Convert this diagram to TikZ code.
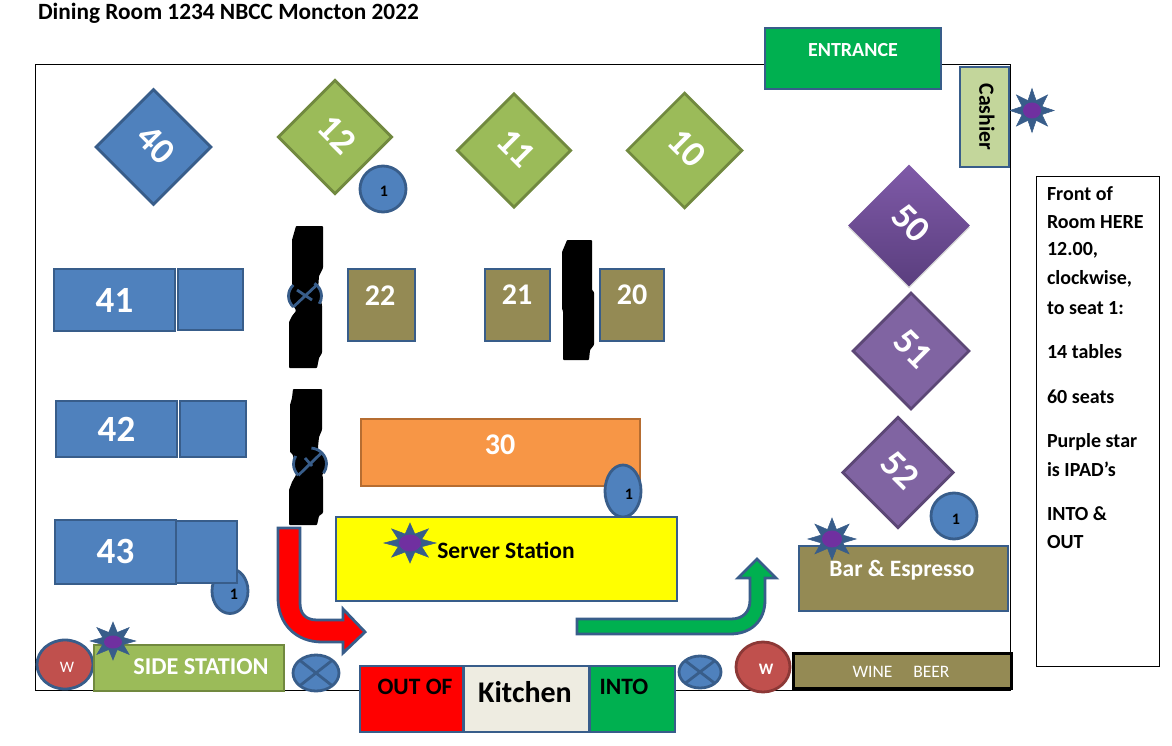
\documentclass[tikz,border=0pt]{standalone}
\usepackage{fontspec}
\setmainfont{Carlito}
\usetikzlibrary{shapes.geometric,shadows}
\definecolor{edgeblue}{HTML}{385D8A}
\definecolor{tblue}{HTML}{4F81BD}
\definecolor{tgreen}{HTML}{9BBB59}
\definecolor{tgreenE}{HTML}{71893F}
\definecolor{tpurple}{HTML}{8064A2}
\definecolor{tpurpleE}{HTML}{5C4776}
\definecolor{olive}{HTML}{948A54}
\definecolor{orangeF}{HTML}{F79646}
\definecolor{orangeE}{HTML}{B66D31}
\definecolor{redW}{HTML}{C0504D}
\definecolor{redWE}{HTML}{8C3836}
\definecolor{cash}{HTML}{C3D69B}
\definecolor{brightgreen}{HTML}{00B050}
\definecolor{starc}{HTML}{7030A0}
\definecolor{kit}{HTML}{EEECE1}
\definecolor{pureyellow}{HTML}{FFFF00}
\definecolor{purered}{HTML}{FF0000}
\definecolor{gradL}{HTML}{7F5AA8}
\definecolor{gradD}{HTML}{5A3E7E}
\newcommand\dt[1]{\raisebox{7pt}{#1}}
\tikzset{
 x=1pt,y=-1pt,
 every node/.style={inner sep=0pt,outer sep=0pt},
 boxn/.style={draw=edgeblue,line width=2.8pt,rectangle,align=center},
 num/.style={text=white,font=\fontsize{37}{37}\selectfont\bfseries},
 twonine/.style={text=white,font=\fontsize{30}{30}\selectfont\bfseries},
 tblbox/.style={boxn,fill=tblue,num},
 dia/.style={rectangle,rotate=-45,minimum size=#1,line width=2.8pt,num,font=\fontsize{37}{37}\selectfont\bfseries},
 gdia/.style={dia=#1,draw=tgreenE,fill=tgreen},
 pdia/.style={dia=#1,draw=tpurpleE,fill=tpurple},
 bdia/.style={dia=#1,draw=edgeblue,fill=tblue},
 round1/.style={ellipse,draw=edgeblue,line width=2.8pt,fill=tblue},
 one/.style={font=\fontsize{16}{16}\selectfont\bfseries,text=black},
 starshape/.style={star,star points=8,star point ratio=2.05,draw=edgeblue,fill=edgeblue,line width=.5pt,minimum size=44pt},
 stardot/.style={ellipse,fill=starc,minimum width=22pt,minimum height=17pt},
 crossc/.style={ellipse,draw=edgeblue,fill=tblue,line width=2.8pt},
 hiddenc/.style={ellipse,fill=black},
 arcline/.style={edgeblue,line width=2.8pt},
 note/.style={anchor=west,font=\fontsize{20}{20}\selectfont\bfseries,text=black},
 blob/.style={fill=black,draw=none},
 bent/.style={draw=edgeblue,line width=2.8pt,line join=miter},
 lab/.style={font=\fontsize{23.5}{24}\selectfont\bfseries}
}
\begin{document}
\begin{tikzpicture}
\useasboundingbox (0,0) rectangle (1172,746);
\fill[white] (0,0) rectangle (1172,746);
% frame
\draw[black,line width=1pt] (35,65) rectangle (1010,690);
\node[anchor=west,font=\fontsize{23.3}{24}\selectfont\bfseries] (title) at (38,13) {Dining Room 1234 NBCC Moncton 2022};
% entrance, cashier
\node[boxn,fill=brightgreen,minimum width=176pt,minimum height=61pt] (entrance) at (853,58.5) {};
\node[text=white,font=\fontsize{20}{20}\selectfont\bfseries] (entrancet) at (853,50) {ENTRANCE};
\node[boxn,fill=cash,minimum width=49pt,minimum height=100pt] (cashier) at (984.5,117) {};
\node[rotate=-90,font=\fontsize{21.7}{22}\selectfont\bfseries] (cashiert) at (987,117) {Cashier};
\node[starshape,minimum size=44pt] (s1) at (1032,110.5) {};
\node[stardot,minimum width=18pt,minimum height=16pt] (s1d) at (1032,110.5) {};
% notes
\draw[black,line width=1pt] (1036,177) rectangle (1159,666);
\node[note] (n1) at (1047,194) {Front of};
\node[note] (n2) at (1047,222) {Room HERE};
\node[note] (n3) at (1047,250) {12.00,};
\node[note] (n4) at (1047,279) {clockwise,};
\node[note] (n5) at (1047,308) {to seat 1:};
\node[note] (n6) at (1047,352) {14 tables};
\node[note] (n7) at (1047,397) {60 seats};
\node[note] (n8) at (1047,442) {Purple star};
\node[note] (n9) at (1047,469) {is IPAD’s};
\node[note] (n10) at (1047,514) {INTO \&};
\node[note] (n11) at (1047,542) {OUT};
% diamonds
\node[bdia=81pt] (t40) at (153.5,147) {\dt{40}};
\node[gdia=80pt] (t12) at (335,137) {\dt{12}};
\node[gdia=80pt] (t11) at (514,150.5) {\dt{11}};
\node[gdia=81pt] (t10) at (684.5,150.5) {\dt{10}};
\node[dia=86pt,line width=0pt,top color=gradL,bottom color=gradD,shading angle=0,drop shadow={shadow xshift=0pt,shadow yshift=-2pt,opacity=.3}] (t50) at (909,225.5) {\dt{50}};
\node[pdia=82pt] (t51) at (911,351) {\dt{51}};
\node[pdia=78pt] (t52) at (898,472.5) {\dt{52}};
% seat 1 markers
\node[round1,minimum width=46pt,minimum height=46pt] (c12) at (383,189) {};
\node[one] (c12t) at (384,191) {1};
\node[round1,minimum width=46pt,minimum height=46pt] (c52) at (954,516) {};
\node[one] (c52t) at (956,519) {1};
% tables
\node[round1,minimum width=36pt,minimum height=45pt] (c43) at (230,591) {};
\node[one] (c43t) at (234,594) {1};
\node[tblbox,minimum width=121pt,minimum height=62pt] (t41) at (114.5,300) {41};
\node[tblbox,minimum width=65pt,minimum height=61pt] (t41b) at (210.5,299.5) {};
\node[tblbox,minimum width=121pt,minimum height=56pt] (t42) at (116.5,429) {\raisebox{-3pt}{42}};
\node[tblbox,minimum width=66pt,minimum height=56pt] (t42b) at (213,429) {};
\node[tblbox,minimum width=121pt,minimum height=64pt] (t43) at (115.5,552) {\raisebox{1pt}{43}};
\node[tblbox,minimum width=61pt,minimum height=62pt] (t43b) at (206.5,552) {};
\node[boxn,fill=olive,minimum width=67pt,minimum height=72pt] (t22) at (381.5,305) {};
\node[twonine] (t22t) at (380,296) {22};
\node[boxn,fill=olive,minimum width=65pt,minimum height=72pt] (t21) at (517.5,305) {};
\node[twonine] (t21t) at (517,295) {21};
\node[boxn,fill=olive,minimum width=64pt,minimum height=72pt] (t20) at (632,305) {};
\node[twonine] (t20t) at (632,295) {20};
\node[rectangle,draw=orangeE,fill=orangeF,line width=2.8pt,minimum width=279pt,minimum height=67pt] (t30) at (500.5,452.5) {};
\node[twonine] (t30t) at (500,445) {30};
\node[round1,minimum width=36pt,minimum height=52pt] (c30) at (623,491) {};
\node[one] (c30t) at (629,494) {1};
% server station
\node[boxn,fill=pureyellow,minimum width=341pt,minimum height=84pt] (server) at (506.5,559) {};
\node[lab,text=black] (servert) at (506,550) {Server Station};
\node[starshape,minimum size=40pt,transform shape,xscale=1.3] (s2) at (410,543) {};
\node[stardot] (s2d) at (410,543) {};
% black blots with the crosses that show through
\fill[blob,rounded corners=.8pt] (296,226)--(323,226)--(323,268)--(319,276)--(318,290)--(322,305)--(322,353)--(319,358)--(317,368)--(289,368)--(289,322)--(292,316)--(296,311)--(292,300)--(292,240)--cycle;
\node[hiddenc,minimum width=33pt,minimum height=31pt] (x1) at (305,296) {};
\draw[arcline] (x1.west) arc[start angle=180,end angle=135,x radius=16.5pt,y radius=15.5pt] (x1.west) arc[start angle=180,end angle=225,x radius=16.5pt,y radius=15.5pt];
\draw[arcline] (x1.east) arc[start angle=0,end angle=55,x radius=16.5pt,y radius=15.5pt] (x1.east) arc[start angle=0,end angle=-30,x radius=16.5pt,y radius=15.5pt];
\draw[arcline] (x1.north east)--(x1.south west) ([shift={(-8,-6)}]x1.center)--([shift={(7,4)}]x1.center);
\fill[blob,rounded corners=.8pt] (567,240)--(592,240)--(592,290)--(594,292)--(594,345)--(590,350)--(589,360)--(563,360)--(563,311)--(562,309)--(562,252)--(565,245)--cycle;
\fill[blob,rounded corners=.8pt] (293,389)--(322,389)--(322,430)--(319,437)--(318,447)--(320,465)--(323,478)--(323,513)--(319,516)--(317,525)--(289,525)--(289,490)--(292,482)--(296,475)--(293,455)--(290,452)--(290,405)--(292,398)--cycle;
\node[hiddenc,minimum width=33pt,minimum height=32pt] (x2) at (310,464) {};
\draw[arcline] (x2.west) arc[start angle=180,end angle=150,x radius=16.5pt,y radius=16pt] (x2.west) arc[start angle=180,end angle=225,x radius=16.5pt,y radius=16pt];
\draw[arcline] (x2.east) arc[start angle=0,end angle=85,x radius=16.5pt,y radius=16pt] (x2.east) arc[start angle=0,end angle=-35,x radius=16.5pt,y radius=16pt];
\draw[arcline] (x2.north east)--(x2.south west) ([shift={(-5,-6)}]x2.center)--([shift={(2,2)}]x2.center);
% bar and wine
\node[boxn,fill=olive,minimum width=209pt,minimum height=65pt] (bar) at (903.5,578.5) {};
\node[lab,text=white] (bart) at (902,570) {Bar \& Espresso};
\node[starshape,minimum size=42pt,transform shape,xscale=1.15] (s3) at (832,539) {};
\node[stardot,minimum width=20pt] (s3d) at (832,539) {};
\node[rectangle,draw=black,fill=olive,line width=3pt,minimum width=218pt,minimum height=35pt] (wine) at (902.5,671) {};
\node[text=white,font=\fontsize{17.5}{18}\selectfont] (winet) at (901,672) {WINE\hspace{1.2em}BEER};
% waiter circles
\node[ellipse,draw=edgeblue,fill=redW,line width=2.8pt,minimum width=56pt,minimum height=49pt] (w1) at (65,664.5) {};
\node[text=white,font=\fontsize{16}{16}\selectfont] (w1t) at (67,667) {W};
\node[ellipse,draw=redWE,fill=redW,line width=2.8pt,minimum width=54pt,minimum height=50pt] (w2) at (763,667) {};
\node[text=white,font=\fontsize{16}{16}\selectfont\bfseries] (w2t) at (766,669) {W};
% side station
\node[rectangle,draw=tgreenE,fill=tgreen,line width=2.8pt,minimum width=190pt,minimum height=46pt] (side) at (189,668) {};
\node[font=\fontsize{24.2}{25}\selectfont\bfseries,text=white] (sidet) at (201,667) {SIDE STATION};
\node[starshape,minimum size=38pt,transform shape,xscale=1.2] (s4) at (113,641) {};
\node[stardot,minimum width=18pt,minimum height=13pt] (s4d) at (113,642) {};
% crosses
\node[crossc,minimum width=46pt,minimum height=36pt] (x3) at (316,673) {};
\draw[arcline] (x3.north east)--(x3.south west) (x3.north west)--(x3.south east);
\node[crossc,minimum width=42pt,minimum height=32pt] (x4) at (700,672) {};
\draw[arcline] (x4.north east)--(x4.south west) (x4.north west)--(x4.south east);
% kitchen
\node[boxn,fill=purered,minimum width=104pt,minimum height=66pt] (out) at (412,699) {};
\node[lab,text=black] (outt) at (415,687) {OUT OF};
\node[boxn,fill=kit,minimum width=126pt,minimum height=66pt] (kitchen) at (526.5,699) {};
\node[text=black,font=\fontsize{30}{30}\selectfont\bfseries] (kitt) at (525,692) {Kitchen};
\node[boxn,fill=brightgreen,minimum width=85pt,minimum height=66pt] (into) at (632.5,699) {};
\node[lab,text=black] (intot) at (624,687) {INTO};
% arrows
\draw[bent,fill=purered] (278,528)--(300,528)--(300,603) .. controls (300,614) and (306,620) .. (317,620)--(343,620)--(343,609)--(365,632)--(343,653)--(343,642)--(322,642) .. controls (296,642) and (278,624) .. (278,598)--cycle;
\draw[bent,fill=brightgreen] (577,619)--(731,619) .. controls (743,619) and (750,612) .. (750,600)--(750,578)--(738,578)--(757,559)--(776,578)--(765,578)--(765,600) .. controls (765,621) and (751,634) .. (730,634)--(577,634)--cycle;
\end{tikzpicture}
\end{document}
